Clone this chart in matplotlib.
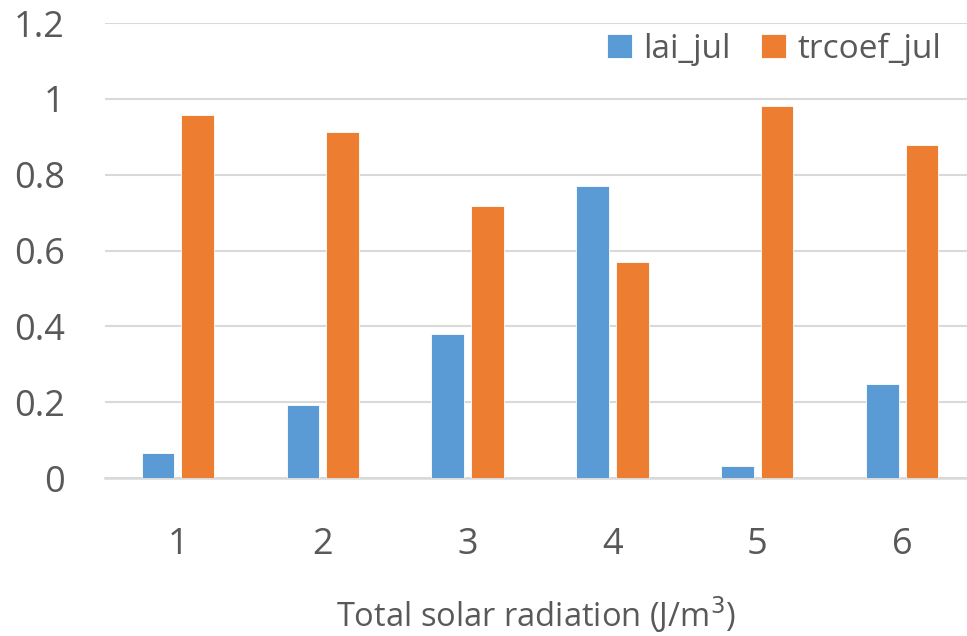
# Bar chart: lai_jul vs trcoef_jul by total solar radiation class
import numpy as np
import matplotlib.pyplot as plt

# data
categories = ['1', '2', '3', '4', '5', '6']
lai_jul = [0.065, 0.193, 0.381, 0.769, 0.033, 0.249]
trcoef_jul = [0.958, 0.913, 0.718, 0.569, 0.982, 0.879]

plt.rcParams['font.family'] = ['Open Sans', 'DejaVu Sans']
txt = '#595959'
grid = '#d9d9d9'

fig = plt.figure(figsize=(9.67, 6.36), dpi=100)
ax = fig.add_axes([0.1086, 0.2484, 0.8914, 0.7154])

x = np.arange(1, len(categories) + 1)
w = 0.225
off = 0.137
ax.bar(x - off, lai_jul, w, color='#5B9BD5', edgecolor='white', linewidth=0.6,
       label='lai_jul', zorder=3)
ax.bar(x + off, trcoef_jul, w, color='#ED7D31', edgecolor='white', linewidth=0.6,
       label='trcoef_jul', zorder=3)

ax.set_xlim(0.497, 6.448)
ax.set_ylim(0, 1.2)
ax.set_yticks([0, 0.2, 0.4, 0.6, 0.8, 1.0, 1.2])
ax.set_yticklabels(['0', '0.2', '0.4', '0.6', '0.8', '1', '1.2'])
ax.set_xticks(x)
ax.set_xticklabels(categories)
ax.tick_params(axis='y', length=0, pad=29, labelsize=26, labelcolor=txt)
ax.tick_params(axis='x', length=0, pad=35, labelsize=26, labelcolor=txt)

ax.grid(axis='y', color=grid, linewidth=1.5, zorder=0)
for s in ['top', 'right', 'left']:
    ax.spines[s].set_visible(False)
ax.spines['bottom'].set_color(grid)
ax.spines['bottom'].set_linewidth(1.8)

ax.set_xlabel('Total solar radiation (J/m$^3$)', fontsize=23.5, color=txt, labelpad=23)

leg = ax.legend(loc='upper right', ncol=2, frameon=False, fontsize=24,
                handlelength=0.75, handleheight=0.75, handletextpad=0.35,
                columnspacing=0.9, bbox_to_anchor=(1.005, 1.045))
for t in leg.get_texts():
    t.set_color(txt)

fig.savefig('out.png', dpi=100)
